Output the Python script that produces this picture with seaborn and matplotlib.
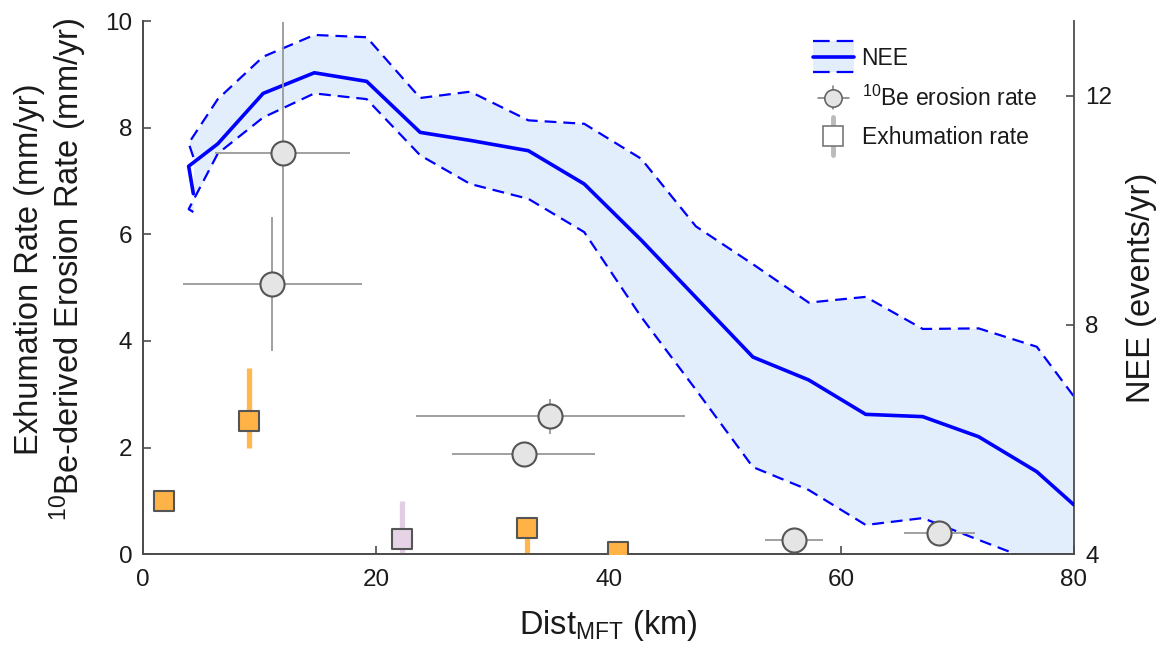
import numpy as np
import pandas as pd
import matplotlib
matplotlib.use("Agg")
import matplotlib.pyplot as plt
import seaborn as sns
from matplotlib.legend_handler import HandlerBase
from matplotlib.lines import Line2D
from matplotlib.patches import Rectangle

# ---------------- data ----------------
nee_dist = [4.3, 3.9, 6.4, 10.3, 14.7, 19.2, 23.8, 28.1, 33.1, 37.9, 42.8, 47.5,
            52.4, 57.2, 62.1, 67.0, 71.8, 76.8, 80.0]
nee_mean = [10.29, 10.77, 11.16, 12.04, 12.40, 12.25, 11.36, 11.22, 11.04, 10.46,
            9.48, 8.48, 7.44, 7.04, 6.44, 6.40, 6.05, 5.44, 4.86]
nee_upper = [10.93, 11.17, 11.94, 12.68, 13.06, 13.02, 11.96, 12.07, 11.57, 11.51,
             10.90, 9.72, 9.06, 8.39, 8.49, 7.93, 7.94, 7.62, 6.75]
nee_lower = [9.97, 10.02, 10.99, 11.62, 12.04, 11.94, 10.96, 10.46, 10.20, 9.62,
             8.14, 6.87, 5.52, 5.12, 4.51, 4.63, 4.25, 3.86, 3.00]

be_dist = [12.0, 11.1, 35.0, 32.7, 55.9, 68.4]
be_rate = [7.53, 5.07, 2.59, 1.88, 0.27, 0.39]
be_xerr = [5.8, 7.7, 11.6, 6.15, 2.5, 3.05]
be_yerr = [2.45, 1.25, 0.33, 0.0, 0.0, 0.0]

exh_dist = [1.8, 9.1, 33.0, 40.8]
exh_rate = [0.99, 2.5, 0.49, 0.04]
exh_err_lo = [0.0, 0.5, 0.46, 0.0]
exh_err_hi = [0.0, 1.0, 0.1, 0.0]

exh2_dist = [22.2]
exh2_rate = [0.29]
exh2_err_lo = [0.26]
exh2_err_hi = [0.7]

# ---------------- style ----------------
sns.set_theme(style="ticks")
plt.rcParams['font.family'] = ['Liberation Sans', 'DejaVu Sans']
plt.rcParams['mathtext.default'] = 'regular'
plt.rcParams['lines.scale_dashes'] = False

BLUE = '#0000FF'
FILL = '#E3EEFC'
SPINE = '#4d4d4d'
TXT = '#1a1a1a'
ORANGE = '#FFB347'
ORANGE_ERR = '#FFB84D'
PURPLE = '#E6D4E6'
PURPLE_ERR = '#E3CDE5'
GREY_ERR = '#999999'
DASH = (0, (8.5, 5))
LABEL_FS = 23.5

fig = plt.figure(figsize=(11.67, 6.52), dpi=100)
ax = fig.add_axes([0.1228, 0.150, 0.7975, 0.8175])
ax2 = ax.twinx()
ax.set_zorder(ax2.get_zorder() + 1)
ax.patch.set_visible(False)

# NEE band (right axis)
ax2.fill_between(nee_dist, nee_lower, nee_upper, color=FILL, lw=0, zorder=1)
ax2.plot(nee_dist, nee_upper, color=BLUE, lw=1.6, linestyle=DASH, zorder=2)
ax2.plot(nee_dist, nee_lower, color=BLUE, lw=1.6, linestyle=DASH, zorder=2)
nee_df = pd.DataFrame({'dist': nee_dist, 'nee': nee_mean})
sns.lineplot(data=nee_df, x='dist', y='nee', sort=False, estimator=None,
             color=BLUE, lw=2.6, ax=ax2, zorder=3)

# 10Be erosion rates
ax.errorbar(be_dist, be_rate, xerr=be_xerr, yerr=be_yerr, fmt='none',
            ecolor=GREY_ERR, elinewidth=1.3, capsize=0, zorder=2)
be_df = pd.DataFrame({'dist': be_dist, 'rate': be_rate})
sns.scatterplot(data=be_df, x='dist', y='rate', s=300, marker='o',
                color='#E5E5E5', edgecolor='#555555', linewidth=1.5, ax=ax, zorder=3)

# Exhumation rates
ax.errorbar(exh_dist, exh_rate, yerr=[exh_err_lo, exh_err_hi], fmt='none',
            ecolor=ORANGE_ERR, elinewidth=3.8, capsize=0, zorder=2)
ax.errorbar(exh2_dist, exh2_rate, yerr=[exh2_err_lo, exh2_err_hi], fmt='none',
            ecolor=PURPLE_ERR, elinewidth=3.8, capsize=0, zorder=2)
exh_df = pd.DataFrame({'dist': exh_dist, 'rate': exh_rate})
sns.scatterplot(data=exh_df, x='dist', y='rate', s=215, marker='s',
                color=ORANGE, edgecolor='#555555', linewidth=1.5, ax=ax, zorder=4)
exh2_df = pd.DataFrame({'dist': exh2_dist, 'rate': exh2_rate})
sns.scatterplot(data=exh2_df, x='dist', y='rate', s=215, marker='s',
                color=PURPLE, edgecolor='#555555', linewidth=1.5, ax=ax, zorder=4)

# ---------------- axes ----------------
ax.set_xlim(0, 80)
ax.set_ylim(0, 10)
ax2.set_ylim(4, 13.3)
ax.set_xticks([0, 20, 40, 60, 80])
ax.set_yticks([0, 2, 4, 6, 8, 10])
ax2.set_yticks([4, 8, 12])

for a in (ax, ax2):
    a.spines['top'].set_visible(False)
    for s in ('left', 'right', 'bottom'):
        a.spines[s].set_color(SPINE)
        a.spines[s].set_linewidth(1.3)
    a.tick_params(direction='in', length=6, width=1.2, color=SPINE,
                  labelsize=17.5, labelcolor=TXT, pad=8)
ax.tick_params(axis='x', pad=11)
ax.spines['right'].set_visible(False)

ax.set_xlabel('Dist$_{MFT}$ (km)', fontsize=LABEL_FS, color=TXT, labelpad=12)
ax.set_ylabel('Exhumation Rate (mm/yr)\n$^{10}$Be-derived Erosion Rate (mm/yr)',
              fontsize=LABEL_FS, color=TXT, linespacing=1.1)
ax.yaxis.set_label_coords(-0.058, 0.535)
ax2.set_ylabel('NEE (events/yr)', fontsize=LABEL_FS, color=TXT, labelpad=10)


# ---------------- legend ----------------
class NEEHandler(HandlerBase):
    def create_artists(self, legend, orig_handle, xdescent, ydescent,
                       width, height, fontsize, trans):
        x0 = -xdescent
        ym = -ydescent + height / 2
        hh = height * 0.98
        r = Rectangle((x0, ym - hh), width, 2 * hh, facecolor=FILL,
                      edgecolor='none', transform=trans)
        l1 = Line2D([x0, x0 + width], [ym, ym], color=BLUE, lw=2.6, transform=trans)
        l2 = Line2D([x0, x0 + width], [ym + hh, ym + hh], color=BLUE, lw=1.6,
                    linestyle=(0, (12, 5)), transform=trans)
        l3 = Line2D([x0, x0 + width], [ym - hh, ym - hh], color=BLUE, lw=1.6,
                    linestyle=(0, (12, 5)), transform=trans)
        return [r, l1, l2, l3]


class BeHandler(HandlerBase):
    def create_artists(self, legend, orig_handle, xdescent, ydescent,
                       width, height, fontsize, trans):
        xc = -xdescent + width / 2
        ym = -ydescent + height / 2
        lh = Line2D([xc - 11, xc + 11], [ym, ym], color='#777777', lw=1.1, transform=trans)
        lv = Line2D([xc, xc], [ym - 8.5, ym + 8.5], color='#777777', lw=1.1, transform=trans)
        m = Line2D([xc], [ym], marker='o', markersize=12.5, markerfacecolor='#E5E5E5',
                   markeredgecolor='#666666', markeredgewidth=1.2, linestyle='none',
                   transform=trans)
        return [lh, lv, m]


class ExHandler(HandlerBase):
    def create_artists(self, legend, orig_handle, xdescent, ydescent,
                       width, height, fontsize, trans):
        xc = -xdescent + width / 2
        ym = -ydescent + height / 2
        lv = Line2D([xc, xc], [ym - 13.5, ym + 13.5], color='#BBBBBB', lw=3.5,
                    transform=trans)
        m = Line2D([xc], [ym], marker='s', markersize=14, markerfacecolor='white',
                   markeredgecolor='#777777', markeredgewidth=1.2, linestyle='none',
                   transform=trans)
        return [lv, m]


h_nee = Rectangle((0, 0), 1, 1)
h_be = Line2D([], [])
h_ex = Line2D([], [])
leg = ax.legend([h_nee, h_be, h_ex],
                ['NEE', '$^{10}$Be erosion rate', 'Exhumation rate'],
                handler_map={h_nee: NEEHandler(), h_be: BeHandler(), h_ex: ExHandler()},
                loc='upper left', bbox_to_anchor=(0.72, 0.952), borderaxespad=0,
                borderpad=0, frameon=False, fontsize=16.5, handlelength=1.75,
                handletextpad=0.35, labelspacing=0.68)
for t in leg.get_texts():
    t.set_color(TXT)

fig.savefig('out.png', dpi=100, facecolor='white')
